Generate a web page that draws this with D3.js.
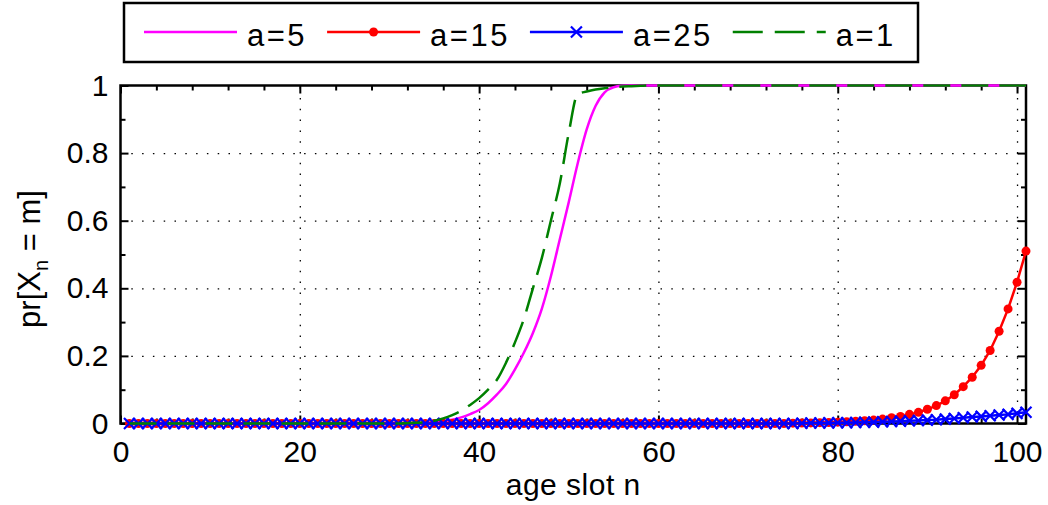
<!DOCTYPE html>
<html>
<head>
<meta charset="utf-8">
<script src="https://cdn.jsdelivr.net/npm/d3@7"></script>
<style>
  body { margin: 0; background: #fff; }
  text { font-family: "Liberation Sans", Arial, Helvetica, sans-serif; fill: #000; }
</style>
</head>
<body>
<div id="chart"></div>
<script>
/********************************* data *********************************/
// age slot n = 1..101
var slots = d3.range(1, 102);

// a=5 (magenta, solid)
var a5 = [
  0,0,0,0,0,0,0,0,0,0,
  0,0,0,0,0,0,0,0,0,0,
  0,0,0,0,0,0,0,0,0,0,
  0,0,0,0.002,0.004,0.007,0.011,0.018,0.028,0.04,
  0.06,0.086,0.117,0.16,0.21,0.268,0.34,0.435,0.545,0.655,
  0.77,0.87,0.94,0.98,0.995,0.999,1,1,1,1,
  1,1,1,1,1,1,1,1,1,1,
  1,1,1,1,1,1,1,1,1,1,
  1,1,1,1,1,1,1,1,1,1,
  1,1,1,1,1,1,1,1,1,1,
  1
];

// a=15 (red, dots)
var a15 = [
  0,0,0,0,0,0,0,0,0,0,
  0,0,0,0,0,0,0,0,0,0,
  0,0,0,0,0,0,0,0,0,0,
  0,0,0,0,0,0,0,0,0,0,
  0,0,0,0,0,0,0,0,0,0,
  0,0,0,0,0,0,0,0,0,0,
  0,0,0,0,0,0,0,0,0,0,
  0,0,0,0,0.001,0.0014,0.0018,0.0024,0.003,0.004,
  0.005,0.0063,0.008,0.010,0.013,0.017,0.021,0.027,0.033,0.042,
  0.053,0.067,0.085,0.109,0.137,0.172,0.216,0.273,0.339,0.418,
  0.51
];

// a=25 (blue, crosses)
var a25 = [
  0,0,0,0,0,0,0,0,0,0,
  0,0,0,0,0,0,0,0,0,0,
  0,0,0,0,0,0,0,0,0,0,
  0,0,0,0,0,0,0,0,0,0,
  0,0,0,0,0,0,0,0,0,0,
  0,0,0,0,0,0,0,0,0,0,
  0,0,0,0,0,0,0,0,0,0,
  0,0,0,0,0,0.001,0.0012,0.0015,0.0018,0.002,
  0.0025,0.003,0.0035,0.004,0.005,0.006,0.007,0.008,0.009,0.010,
  0.011,0.013,0.015,0.017,0.019,0.021,0.023,0.025,0.027,0.030,
  0.033
];

// a=1 (green, dashed)
var a1 = [
  0,0,0,0,0,0,0,0,0,0,
  0,0,0,0,0,0,0,0,0,0,
  0,0,0,0,0,0,0,0,0,0,
  0,0.001,0.002,0.004,0.008,0.015,0.025,0.038,0.055,0.075,
  0.10,0.13,0.18,0.24,0.31,0.40,0.49,0.60,0.71,0.86,
  0.975,0.982,0.988,0.992,0.995,0.997,0.998,0.999,1,1,
  1,1,1,1,1,1,1,1,1,1,
  1,1,1,1,1,1,1,1,1,1,
  1,1,1,1,1,1,1,1,1,1,
  1,1,1,1,1,1,1,1,1,1,
  1
];

var xTicks = [0, 20, 40, 60, 80, 100];
var yTicks = [0, 0.2, 0.4, 0.6, 0.8, 1];
var yTickLabels = ["0", "0.2", "0.4", "0.6", "0.8", "1"];

var seriesNames = ["a=5", "a=15", "a=25", "a=1"];
var seriesData = [a5, a15, a25, a1];
var seriesColors = ["#ff00ff", "#ff0000", "#0000ff", "#008000"];
var seriesMarkers = ["none", "dot", "cross", "none"];
var seriesDash = [null, null, null, "27,11"];

/********************************* chart *********************************/
var width = 1048, height = 505;
var box = { left: 120.5, right: 1026, top: 85.5, bottom: 423.5 };

var svg = d3.select("#chart").append("svg")
  .attr("width", width)
  .attr("height", height);

var x = d3.scaleLinear().domain([0, 101]).range([box.left, box.right]);
var y = d3.scaleLinear().domain([0, 1]).range([box.bottom, box.top]);

// dotted grid
svg.append("g")
  .attr("transform", "translate(0," + box.bottom + ")")
  .call(d3.axisBottom(x).tickValues(xTicks.slice(1)).tickSize(-(box.bottom - box.top)).tickFormat(""))
  .call(function(g){
    g.select(".domain").remove();
    g.selectAll("line").attr("stroke", "#000").attr("stroke-width", 1.3).attr("stroke-dasharray", "1.5,9.3");
  });
svg.append("g")
  .attr("transform", "translate(" + box.left + ",0)")
  .call(d3.axisLeft(y).tickValues(yTicks.slice(1, 5)).tickSize(-(box.right - box.left)).tickFormat(""))
  .call(function(g){
    g.select(".domain").remove();
    g.selectAll("line").attr("stroke", "#000").attr("stroke-width", 1.3).attr("stroke-dasharray", "1.5,9.3");
  });

// ticks (inside) on all four sides
var xMinor = d3.range(0, 101, 4).filter(function(v){ return v % 20 != 0; });
var yMinor = d3.range(1, 10, 2).map(function(v){ return v / 10; });

function tickStyle(g){
  g.select(".domain").remove();
  g.selectAll("line").attr("stroke", "#000").attr("stroke-width", 2);
}
var sides = [
  { axis: d3.axisBottom, scale: x, pos: "translate(0," + box.bottom + ")", major: xTicks, minor: xMinor },
  { axis: d3.axisTop, scale: x, pos: "translate(0," + box.top + ")", major: xTicks, minor: xMinor },
  { axis: d3.axisLeft, scale: y, pos: "translate(" + box.left + ",0)", major: yTicks, minor: yMinor },
  { axis: d3.axisRight, scale: y, pos: "translate(" + box.right + ",0)", major: yTicks, minor: yMinor }
];
sides.forEach(function(s){
  svg.append("g").attr("transform", s.pos)
    .call(s.axis(s.scale).tickValues(s.major).tickSize(-8).tickFormat(""))
    .call(tickStyle);
  svg.append("g").attr("transform", s.pos)
    .call(s.axis(s.scale).tickValues(s.minor).tickSize(-5).tickFormat(""))
    .call(tickStyle);
});

// tick labels
svg.append("g")
  .attr("transform", "translate(0," + box.bottom + ")")
  .call(d3.axisBottom(x).tickValues(xTicks).tickSize(0).tickPadding(17).tickFormat(d3.format("d")))
  .call(function(g){
    g.select(".domain").remove();
    g.selectAll("text").style("font-size", "30px").attr("fill", "#000")
      .style("font-family", "'Liberation Sans', Arial, sans-serif");
  });
svg.append("g")
  .attr("transform", "translate(" + box.left + ",0)")
  .call(d3.axisLeft(y).tickValues(yTicks).tickSize(0).tickPadding(12)
    .tickFormat(function(d, i){ return yTickLabels[i]; }))
  .call(function(g){
    g.select(".domain").remove();
    g.selectAll("text").style("font-size", "30px").attr("fill", "#000")
      .style("font-family", "'Liberation Sans', Arial, sans-serif");
  });

// box
svg.append("rect")
  .attr("x", box.left).attr("y", box.top)
  .attr("width", box.right - box.left).attr("height", box.bottom - box.top)
  .attr("fill", "none").attr("stroke", "#000").attr("stroke-width", 2.5);

// series
var crossPath = "M-5.5,-5.5L5.5,5.5M-5.5,5.5L5.5,-5.5";

seriesData.forEach(function(vals, i){
  var pts = slots.map(function(n, j){ return [n, vals[j]]; });
  var line = d3.line()
    .x(function(d){ return x(d[0]); })
    .y(function(d){ return y(d[1]); })
    .curve(seriesMarkers[i] == "none" ? d3.curveMonotoneX : d3.curveLinear);
  var g = svg.append("g").attr("class", "series");
  g.append("path")
    .datum(pts)
    .attr("d", line)
    .attr("fill", "none")
    .attr("stroke", seriesColors[i])
    .attr("stroke-width", 2.5)
    .attr("stroke-dasharray", seriesDash[i]);
  if (seriesMarkers[i] == "dot") {
    g.selectAll("circle").data(pts).enter().append("circle")
      .attr("cx", function(d){ return x(d[0]); })
      .attr("cy", function(d){ return y(d[1]); })
      .attr("r", 4.5)
      .attr("fill", seriesColors[i]);
  } else if (seriesMarkers[i] == "cross") {
    g.selectAll(".mk").data(pts).enter().append("path")
      .attr("class", "mk")
      .attr("transform", function(d){ return "translate(" + x(d[0]) + "," + y(d[1]) + ")"; })
      .attr("d", crossPath)
      .attr("fill", "none")
      .attr("stroke", seriesColors[i])
      .attr("stroke-width", 2.2);
  }
});

// axis titles
svg.append("text")
  .attr("x", (box.left + box.right) / 2)
  .attr("y", 495)
  .attr("text-anchor", "middle")
  .style("font-size", "30px")
  .style("letter-spacing", "0.5px")
  .text("age slot n");

var yl = svg.append("text")
  .attr("transform", "translate(40,259) rotate(-90)")
  .attr("text-anchor", "middle")
  .style("font-size", "31px");
yl.append("tspan").text("pr[X");
yl.append("tspan").attr("dy", 8).style("font-size", "20px").text("n");
yl.append("tspan").attr("dy", -8).text(" = m]");

/********************************* legend *********************************/
var leg = svg.append("g").attr("class", "legend");
leg.append("rect")
  .attr("x", 124).attr("y", 3)
  .attr("width", 794).attr("height", 59)
  .attr("fill", "#fff").attr("stroke", "#000").attr("stroke-width", 2.5);

var cursor = 144, lineLen = 93, ly = 32;
seriesNames.forEach(function(name, i){
  leg.append("line")
    .attr("x1", cursor).attr("x2", cursor + lineLen)
    .attr("y1", ly).attr("y2", ly)
    .attr("stroke", seriesColors[i])
    .attr("stroke-width", 2.5)
    .attr("stroke-dasharray", seriesDash[i] ? "30,12" : null);
  var cx = cursor + lineLen / 2;
  if (seriesMarkers[i] == "dot") {
    leg.append("circle").attr("cx", cx).attr("cy", ly).attr("r", 4.5).attr("fill", seriesColors[i]);
  } else if (seriesMarkers[i] == "cross") {
    leg.append("path").attr("transform", "translate(" + cx + "," + ly + ")")
      .attr("d", crossPath).attr("fill", "none").attr("stroke", seriesColors[i]).attr("stroke-width", 2.2);
  }
  var t = leg.append("text")
    .attr("x", cursor + lineLen + 10)
    .attr("y", 45.5)
    .style("font-size", "31px")
    .style("letter-spacing", "2.5px")
    .text(name);
  cursor = cursor + lineLen + 10 + t.node().getComputedTextLength() + 20;
});
</script>
</body>
</html>
